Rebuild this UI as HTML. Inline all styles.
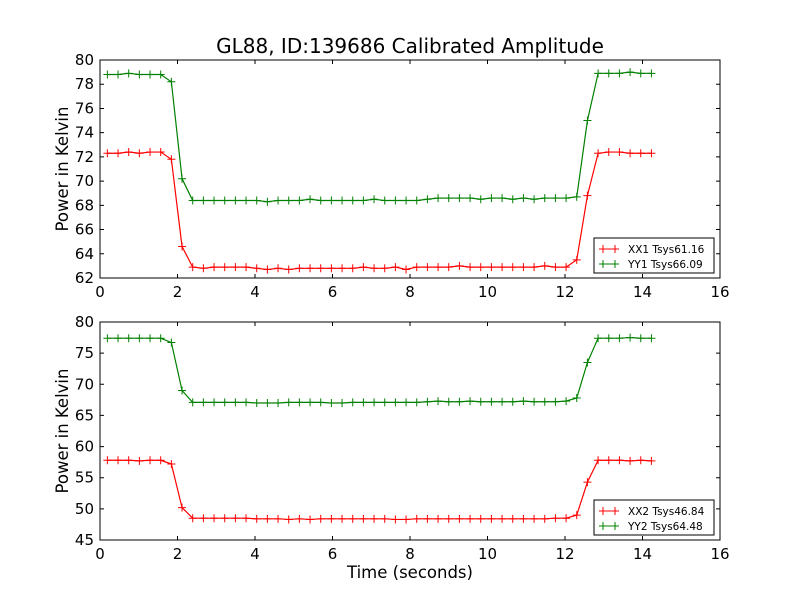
<!DOCTYPE html>
<html><head><meta charset="utf-8"><style>
body{margin:0;background:#fff;}
svg{display:block;font-family:"DejaVu Sans","Liberation Sans",sans-serif;}
</style></head><body>
<svg id="c" width="800" height="600" viewBox="0 0 800 600"></svg>
<script>
const times = Array.from({length:52},(_,i)=>0.19+i*0.2753);
const xx1 = [72.3,72.3,72.4,72.3,72.4,72.4,71.8,64.6,62.9,62.8,62.9,62.9,62.9,62.9,62.8,62.7,62.8,62.7,62.8,62.8,62.8,62.8,62.8,62.8,62.9,62.8,62.8,62.9,62.7,62.9,62.9,62.9,62.9,63.0,62.9,62.9,62.9,62.9,62.9,62.9,62.9,63.0,62.9,62.9,63.5,68.8,72.3,72.4,72.4,72.3,72.3,72.3];
const yy1 = [78.8,78.8,78.9,78.8,78.8,78.8,78.2,70.2,68.4,68.4,68.4,68.4,68.4,68.4,68.4,68.3,68.4,68.4,68.4,68.5,68.4,68.4,68.4,68.4,68.4,68.5,68.4,68.4,68.4,68.4,68.5,68.6,68.6,68.6,68.6,68.5,68.6,68.6,68.5,68.6,68.5,68.6,68.6,68.6,68.7,75.0,78.9,78.9,78.9,79.0,78.9,78.9];
const xx2 = [57.8,57.8,57.8,57.7,57.8,57.8,57.2,50.2,48.5,48.5,48.5,48.5,48.5,48.5,48.4,48.4,48.4,48.3,48.4,48.3,48.4,48.4,48.4,48.4,48.4,48.4,48.4,48.3,48.3,48.4,48.4,48.4,48.4,48.4,48.4,48.4,48.4,48.4,48.4,48.4,48.4,48.4,48.5,48.5,49.0,54.3,57.8,57.8,57.8,57.7,57.8,57.7];
const yy2 = [77.4,77.4,77.4,77.4,77.4,77.4,76.7,69.0,67.1,67.1,67.1,67.1,67.1,67.1,67.0,67.0,67.0,67.1,67.1,67.1,67.1,67.0,67.0,67.1,67.1,67.1,67.1,67.1,67.1,67.1,67.2,67.3,67.2,67.2,67.3,67.2,67.2,67.2,67.2,67.3,67.2,67.2,67.2,67.3,67.8,73.5,77.4,77.4,77.4,77.5,77.4,77.4];
const xTicks = [0,2,4,6,8,10,12,14,16];
const yTicksTop = [62,64,66,68,70,72,74,76,78,80];
const yTicksBot = [45,50,55,60,65,70,75,80];
const NS='http://www.w3.org/2000/svg';
const svg=document.getElementById('c');
function mk(t,a,p){const e=document.createElementNS(NS,t);for(const k in a)e.setAttribute(k,a[k]);(p||svg).appendChild(e);return e;}
function panel(top,bot,ymin,ymax,yTicks,s1,s2,n1,n2,pname){
  const L=100,R=720;
  const g=mk('g',{});
  
  
  const X=v=>L+(v-0)/(16-0)*(R-L);
  const Y=v=>bot-(v-ymin)/(ymax-ymin)*(bot-top);
  [[s1,'#ff0000',n1],[s2,'#008000',n2]].forEach(([s,c,n])=>{
    const pts=s.map((v,i)=>X(times[i]).toFixed(2)+','+Y(v).toFixed(2)).join(' ');
    const pl=mk('polyline',{points:pts,fill:'none',stroke:c,'stroke-width':1.2},g);
    
    
    s.forEach((v,i)=>{const x=X(times[i]),y=Y(v);
      const m=mk('path',{d:`M${x-4},${y}H${x+4}M${x},${y-4}V${y+4}`,stroke:c,'stroke-width':1},g);
      
      });
  });
  const fr=mk('rect',{x:L,y:top,width:R-L,height:bot-top,fill:'none',stroke:'#000','stroke-width':1},g);
  
  
  xTicks.forEach(t=>{const x=X(t);
    mk('path',{d:`M${x},${bot}v-4M${x},${top}v4`,stroke:'#000'},g);
    const tx=mk('text',{x:x,y:bot+19,'text-anchor':'middle','font-size':15},g);tx.textContent=t;
    
    });
  yTicks.forEach(t=>{const y=Y(t);
    mk('path',{d:`M${L},${y}h4M${R},${y}h-4`,stroke:'#000'},g);
    const tx=mk('text',{x:L-6,y:y+5,'text-anchor':'end','font-size':15},g);tx.textContent=t;
    
    });
  const yl=mk('text',{x:0,y:0,transform:`translate(68,${(top+bot)/2}) rotate(-90)`,'text-anchor':'middle','font-size':16.5},g);
  yl.textContent='Power in Kelvin';
  
  
  const lg=mk('g',{},g);
  
  
  const lb=bot-40;
  mk('rect',{x:594,y:lb,width:120,height:35,fill:'#fff',stroke:'#000'},lg);
  [[n1,'#ff0000',lb+11],[n2,'#008000',lb+26]].forEach(([n,c,y])=>{
    mk('path',{d:`M599,${y}h20M603,${y-4}v8M615,${y-4}v8`,stroke:c},lg);
    const t=mk('text',{x:628,y:y+4,'font-size':10.5},lg);t.textContent=n;
    
    });
}
const title=mk('text',{x:410,y:53,'text-anchor':'middle','font-size':20});
title.textContent='GL88, ID:139686 Calibrated Amplitude';


panel(60,278,62,80,yTicksTop,xx1,yy1,'XX1 Tsys61.16','YY1 Tsys66.09','top-panel');
panel(322,540,45,80,yTicksBot,xx2,yy2,'XX2 Tsys46.84','YY2 Tsys64.48','bottom-panel');
const xl=mk('text',{x:410,y:578,'text-anchor':'middle','font-size':16.5});
xl.textContent='Time (seconds)';


</script>
</body></html>
